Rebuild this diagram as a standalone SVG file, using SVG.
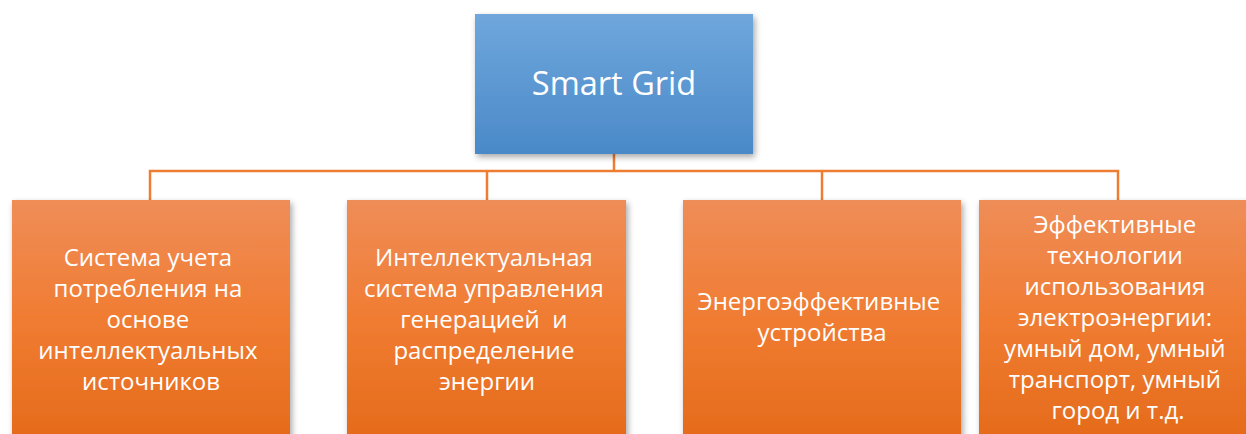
<svg xmlns="http://www.w3.org/2000/svg" width="1246" height="434" viewBox="0 0 1246 434">
  <defs>
    <linearGradient id="blueFill" x1="0" y1="0" x2="0" y2="1">
      <stop offset="0" stop-color="#6fa7dc"/>
      <stop offset="1" stop-color="#4a89c8"/>
    </linearGradient>
    <linearGradient id="orangeFill" x1="0" y1="0" x2="0" y2="1">
      <stop offset="0" stop-color="#ef8d58"/>
      <stop offset="0.5" stop-color="#f07c32"/>
      <stop offset="1" stop-color="#e56b1b"/>
    </linearGradient>
    <filter id="shadow" x="-10%" y="-10%" width="125%" height="125%">
      <feDropShadow dx="2" dy="3" stdDeviation="3" flood-color="#000" flood-opacity="0.35"/>
    </filter>
    <style>
      .box { filter: url(#shadow); }
      .blue { fill: url(#blueFill); }
      .orange { fill: url(#orangeFill); }
      .link { fill: none; stroke: #ed7d31; stroke-width: 2.5; }
      text { font-family: "Open Sans", "Liberation Sans", sans-serif; fill: #ffffff; text-anchor: middle; }
      .title { font-size: 32.5px; }
      .label { font-size: 24px; }
    </style>
  </defs>

  <!-- connectors -->
  <g id="connectors">
    <path class="link" d="M614 154 V171"/>
    <path class="link" d="M150 200 V171 H1118 V200"/>
    <path class="link" d="M487 171 V200"/>
    <path class="link" d="M822 171 V200"/>
  </g>

  <!-- root -->
  <g id="node-root">
    <rect class="box blue" x="475" y="14" width="278" height="140"/>
    <text class="title" x="614" y="95">Smart Grid</text>
  </g>

  <!-- children -->
  <g id="node-metering">
    <rect class="box orange" x="12" y="200" width="278" height="238"/>
    <text class="label" x="151">
      <tspan x="151" y="266">Система учета</tspan>
      <tspan x="151" y="297">потребления на</tspan>
      <tspan x="151" y="328">основе</tspan>
      <tspan x="151" y="359">интеллектуальных</tspan>
      <tspan x="151" y="390">источников</tspan>
    </text>
  </g>

  <g id="node-control">
    <rect class="box orange" x="347" y="200" width="279" height="238"/>
    <text class="label" x="487">
      <tspan x="487" y="266">Интеллектуальная</tspan>
      <tspan x="487" y="297">система управления</tspan>
      <tspan x="487" y="328" xml:space="preserve">генерацией  и</tspan>
      <tspan x="487" y="359">распределение</tspan>
      <tspan x="487" y="390">энергии</tspan>
    </text>
  </g>

  <g id="node-devices">
    <rect class="box orange" x="683" y="200" width="278" height="238"/>
    <text class="label" x="822">
      <tspan x="822" y="310">Энергоэффективные</tspan>
      <tspan x="822" y="341">устройства</tspan>
    </text>
  </g>

  <g id="node-technologies">
    <rect class="box orange" x="979" y="200" width="278" height="238"/>
    <text class="label" x="1118">
      <tspan x="1118" y="233">Эффективные</tspan>
      <tspan x="1118" y="264">технологии</tspan>
      <tspan x="1118" y="295">использования</tspan>
      <tspan x="1118" y="326">электроэнергии:</tspan>
      <tspan x="1118" y="357">умный дом, умный</tspan>
      <tspan x="1118" y="388">транспорт, умный</tspan>
      <tspan x="1118" y="419">город и т.д.</tspan>
    </text>
  </g>
</svg>
